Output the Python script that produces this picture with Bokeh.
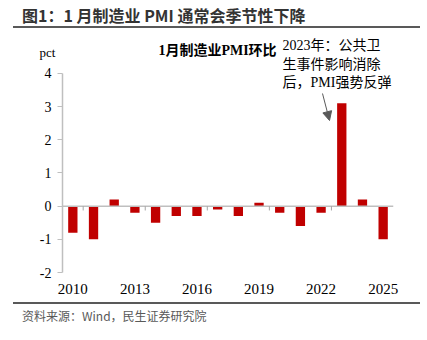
from bokeh.plotting import figure
from bokeh.models import (Range1d, FixedTicker, Label, Arrow, NormalHead,
                          ColumnDataSource, LinearAxis, Div)
from bokeh.layouts import column
from bokeh.embed import file_html
from bokeh.resources import INLINE

# ---- data ----
years = [2010, 2011, 2012, 2013, 2014, 2015, 2016, 2017, 2018, 2019,
         2020, 2021, 2022, 2023, 2024, 2025]
mom_change = [-0.8, -1.0, 0.2, -0.2, -0.5, -0.3, -0.3, -0.1, -0.3, 0.1,
              -0.2, -0.6, -0.2, 3.1, 0.2, -1.0]
x_tick_years = [2010, 2013, 2016, 2019, 2022, 2025]
y_ticks = [-2, -1, 0, 1, 2, 3, 4]
y_tick_labels = ["-2", "-1", "0", "1", "2", "3", "4"]

title_text = "图1：1 月制造业 PMI 通常会季节性下降"
inner_title = "1月制造业PMI环比"
note_lines = ["2023年：公共卫", "生事件影响消除", "后，PMI强势反弹"]
source_text = "资料来源：Wind，民生证券研究院"
unit_text = "pct"

SERIF = "Liberation Serif, Noto Sans CJK SC"
SANS = "'Noto Sans CJK SC', sans-serif"
GREY = "#BFBFBF"

# ---- geometry (pixels) ----
FIG_TOP = 28           # page y where the figure starts
FIG_H = 274
FRAME_LEFT = 30
FRAME_TOP = 4          # inside figure
FRAME_BOTTOM = 252     # inside figure
AXIS_PX_LEFT = 32      # y-axis offset from frame left
AXIS_PX_BOTTOM = 8     # gap between y=-2 and frame bottom
UNIT_X = 20.69         # px per year
UNIT_Y = 33.17         # px per pct

x0 = years[0] - 0.5 - AXIS_PX_LEFT / UNIT_X
x1 = years[-1] + 0.5
y0 = y_ticks[0] - AXIS_PX_BOTTOM / UNIT_Y
y1 = y0 + (FRAME_BOTTOM - FRAME_TOP) / UNIT_Y

p = figure(width=427, height=FIG_H, output_backend="svg", toolbar_location=None,
           x_range=Range1d(x0, x1), y_range=Range1d(y0, y1),
           y_axis_location=None,
           min_border_left=FRAME_LEFT, min_border_right=427 - 393,
           min_border_top=FRAME_TOP, min_border_bottom=FIG_H - FRAME_BOTTOM,
           background_fill_color="white", border_fill_color="white")
p.outline_line_color = None
p.grid.visible = False

src = ColumnDataSource(dict(x=years, top=mom_change))
p.vbar(x="x", top="top", width=0.45, source=src, fill_color="#C00000",
       line_color=None)

# zero line with boundary ticks
p.segment(x0=[years[0] - 0.5], x1=[years[-1] + 0.5], y0=[0], y1=[0],
          line_color=GREY, line_width=1.5)
tick_pos = [y + 0.5 for y in x_tick_years[:-1]]
tick_len = 0.13
p.segment(x0=tick_pos, x1=tick_pos, y0=[0] * len(tick_pos),
          y1=[-tick_len] * len(tick_pos), line_color="#A6A6A6", line_width=1)

# x axis (labels only)
xa = p.xaxis[0]
xa.ticker = FixedTicker(ticks=x_tick_years)
xa.axis_line_color = None
xa.major_tick_line_color = None
xa.minor_tick_line_color = None
xa.major_tick_out = 0
xa.major_tick_in = 0
xa.major_label_standoff = 3
xa.major_label_text_font = SERIF
xa.major_label_text_font_size = "15px"
xa.major_label_text_color = "black"

# y axis placed at the first category boundary
ya = LinearAxis(fixed_location=years[0] - 0.5, bounds=(y_ticks[0], y_ticks[-1]))
ya.ticker = FixedTicker(ticks=y_ticks)
ya.major_label_overrides = {t: s for t, s in zip(y_ticks, y_tick_labels)}
ya.axis_line_color = GREY
ya.axis_line_width = 1.5
ya.major_tick_line_color = GREY
ya.major_tick_out = 5
ya.major_tick_in = 0
ya.minor_tick_line_color = None
ya.major_label_standoff = 6
ya.major_label_text_font = SERIF
ya.major_label_text_font_size = "14px"
ya.major_label_text_color = "black"
p.add_layout(ya, "left")

# ---- in-frame texts (screen units relative to frame bottom-left) ----
def fx(cx):
    return cx - FRAME_LEFT

def fy(cy):  # cy: page y
    return (FRAME_BOTTOM + FIG_TOP) - cy

p.add_layout(Label(x=fx(217), y=fy(50), x_units="screen", y_units="screen",
                   text=inner_title, text_font=SERIF, text_font_style="bold",
                   text_font_size="14px", text_color="black",
                   text_baseline="middle", text_align="center"))
p.add_layout(Label(x=fx(47), y=fy(52), x_units="screen", y_units="screen",
                   text=unit_text, text_font=SERIF, text_font_size="13px",
                   text_color="black", text_baseline="middle", text_align="center"))
for i, line in enumerate(note_lines):
    p.add_layout(Label(x=fx(282), y=fy(45 + i * 18.5), x_units="screen", y_units="screen",
                       text=line, text_font=SERIF, text_font_size="14px",
                       text_color="black", text_baseline="middle", text_align="left"))
p.add_layout(Arrow(end=NormalHead(size=9, fill_color="#595959", line_color="#595959"),
                   x_start=fx(322), y_start=fy(93), x_end=fx(329), y_end=fy(120),
                   start_units="screen", end_units="screen",
                   line_color="#595959", line_width=1))

title_div = Div(
    text=(f'<div style="margin-left:13px;width:407px;height:26px;'
          f'border-bottom:2px solid #595959;box-sizing:content-box;">'
          f'<div style="padding-left:9px;font-family:{SANS};font-weight:bold;'
          f'font-size:16px;line-height:30px;color:#333333;white-space:nowrap;">'
          f'{title_text}</div></div>'),
    width=427, height=FIG_TOP, margin=(0, 0, 0, 0))
source_div = Div(
    text=(f'<div style="margin-left:13px;width:407px;'
          f'border-top:2px solid #595959;">'
          f'<div style="padding-left:9px;font-family:{SANS};font-size:12px;'
          f'line-height:24px;color:#595959;white-space:nowrap;">'
          f'{source_text}</div></div>'),
    width=427, height=340 - FIG_TOP - FIG_H, margin=(0, 0, 0, 0))

layout = column(title_div, p, source_div, spacing=0, margin=(0, 0, 0, 0))
open("out.html", "w").write(file_html(layout, INLINE))
